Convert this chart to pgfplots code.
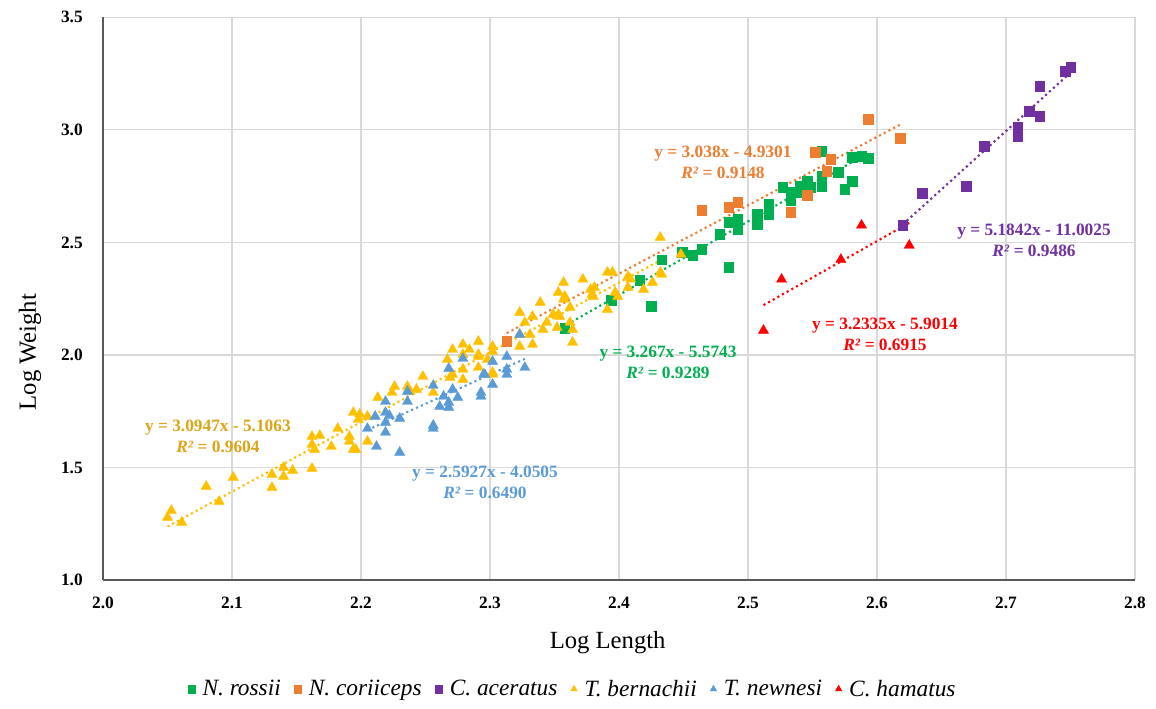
\documentclass[border=0pt]{standalone}
\usepackage{fontspec}
\setmainfont{Liberation Serif}
\usepackage{pgfplots}
\pgfplotsset{compat=1.18}
\definecolor{cgreen}{HTML}{00B050}
\definecolor{corange}{HTML}{ED7D31}
\definecolor{cpurple}{HTML}{7030A0}
\definecolor{cyellow}{HTML}{FFC000}
\definecolor{cblue}{HTML}{5B9BD5}
\definecolor{cred}{HTML}{FF0000}
\definecolor{lyellow}{HTML}{DCA515}
\definecolor{axisgray}{HTML}{595959}
\definecolor{gridgray}{HTML}{D9D9D9}
\newcommand\eqfont{\fontsize{13}{15.2}\selectfont\bfseries}
\begin{document}
\begin{tikzpicture}
\begin{axis}[
  scale only axis, width=774pt, height=422pt,
  xmin=2.0, xmax=2.8, ymin=1.0, ymax=3.5,
  axis lines=left, axis line style={-, draw=axisgray, line width=1pt},
  xtick={2,2.1,2.2,2.3,2.4,2.5,2.6,2.7,2.8},
  xticklabels={2.0,2.1,2.2,2.3,2.4,2.5,2.6,2.7,2.8},
  ytick={1,1.5,2,2.5,3,3.5},
  yticklabels={1.0,1.5,2.0,2.5,3.0,3.5},
  grid=major, major grid style={draw=gridgray, line width=0.9pt},
  major tick length=0pt,
  tick label style={font=\fontsize{13}{15}\selectfont\bfseries, inner sep=0pt},
  xticklabel shift=12.5pt, yticklabel shift=15pt,
  xlabel={Log Length}, ylabel={Log Weight},
  label style={font=\fontsize{18.5}{22}\selectfont},
  xlabel style={at={(rel axis cs:0.489,-0.1114)}, anchor=center},
  ylabel style={at={(rel axis cs:-0.0707,0.405)}, anchor=center},
  legend style={at={(rel axis cs:0.4554,-0.1937)}, anchor=center, draw=none,
    font=\fontsize{17.5}{21}\selectfont\itshape, inner sep=0pt,
    /tikz/every odd column/.append style={column sep=3.5pt},
    /tikz/every even column/.append style={column sep=8pt}},
  legend columns=6,
  legend image code/.code={\draw[#1, mark size=2.8pt] plot coordinates {(0pt,0pt)};},
  sq/.style={only marks, mark=square*, mark size=3.6pt, mark options={line width=0.3pt}},
  tr/.style={only marks, mark=triangle*, mark size=4.4pt, mark options={line width=0.3pt}},
  trend/.style={line width=1.6pt, dash pattern=on 1.6pt off 2.4pt, forget plot},
]
% N. rossii
\addplot[sq, color=cgreen] coordinates {
(2.358,2.120) (2.394,2.242) (2.416,2.331) (2.425,2.216) (2.433,2.424)
(2.449,2.456) (2.457,2.442) (2.464,2.469) (2.478,2.536) (2.485,2.589)
(2.485,2.389) (2.492,2.602) (2.492,2.558) (2.507,2.624) (2.507,2.580)
(2.516,2.669) (2.516,2.624) (2.527,2.744) (2.533,2.722) (2.538,2.722)
(2.533,2.687) (2.540,2.749) (2.546,2.771) (2.548,2.744) (2.557,2.749)
(2.557,2.793) (2.557,2.904) (2.570,2.811) (2.575,2.736) (2.581,2.771)
(2.581,2.878) (2.588,2.882) (2.593,2.873)};
\addlegendentry{N. rossii}
% N. coriiceps
\addplot[sq, color=corange] coordinates {
(2.313,2.060) (2.464,2.642) (2.485,2.656) (2.492,2.678) (2.533,2.633)
(2.546,2.709) (2.561,2.816) (2.564,2.869) (2.552,2.900) (2.593,3.047)
(2.618,2.962)};
\addlegendentry{N. coriiceps}
% C. aceratus
\addplot[sq, color=cpurple] coordinates {
(2.620,2.576) (2.635,2.718) (2.669,2.749) (2.683,2.927) (2.709,3.011)
(2.709,2.989) (2.709,2.971) (2.718,3.082) (2.726,3.060) (2.726,3.193)
(2.746,3.260) (2.750,3.278)};
\addlegendentry{C. aceratus}
% T. bernachii
\addplot[tr, color=cyellow] coordinates {
(2.050,1.278) (2.053,1.309) (2.061,1.256) (2.080,1.416) (2.090,1.349)
(2.101,1.456) (2.131,1.469) (2.131,1.411) (2.140,1.500) (2.140,1.460)
(2.147,1.487) (2.162,1.496) (2.162,1.638) (2.168,1.642) (2.162,1.602)
(2.164,1.580) (2.177,1.593) (2.182,1.673) (2.191,1.638) (2.191,1.616)
(2.194,1.580) (2.196,1.580) (2.205,1.616) (2.194,1.744) (2.198,1.713)
(2.199,1.736) (2.205,1.727) (2.213,1.811) (2.224,1.833) (2.226,1.860)
(2.236,1.860) (2.238,1.838) (2.243,1.847) (2.248,1.904) (2.256,1.833)
(2.271,2.024) (2.279,2.047) (2.291,2.060) (2.302,2.038) (2.284,2.024)
(2.267,1.980) (2.279,2.002) (2.291,2.002) (2.298,1.980) (2.279,1.936)
(2.291,1.944) (2.302,1.922) (2.271,1.913) (2.279,1.891) (2.339,2.233)
(2.357,2.247) (2.323,2.189) (2.333,2.171) (2.327,2.144) (2.344,2.144)
(2.353,2.180) (2.362,2.211) (2.362,2.144) (2.341,2.113) (2.352,2.122)
(2.364,2.113) (2.323,2.091) (2.331,2.091) (2.333,2.047) (2.323,2.038)
(2.302,2.016) (2.291,1.993) (2.269,1.900) (2.302,1.913) (2.364,2.056)
(2.432,2.522) (2.357,2.322) (2.372,2.336) (2.391,2.367) (2.395,2.367)
(2.353,2.278) (2.358,2.260) (2.378,2.291) (2.380,2.260) (2.397,2.278)
(2.407,2.349) (2.407,2.300) (2.419,2.291) (2.426,2.322) (2.432,2.367)
(2.391,2.202) (2.349,2.180) (2.354,2.171) (2.448,2.447) (2.433,2.358)
(2.409,2.336) (2.381,2.300) (2.379,2.269) (2.399,2.260)};
\addlegendentry{T. bernachii}
% T. newnesi
\addplot[tr, color=cblue] coordinates {
(2.279,1.984) (2.268,1.940) (2.256,1.864) (2.236,1.838) (2.236,1.793)
(2.219,1.793) (2.219,1.744) (2.222,1.731) (2.211,1.727) (2.230,1.718)
(2.219,1.700) (2.205,1.673) (2.219,1.656) (2.212,1.593) (2.256,1.687)
(2.256,1.673) (2.261,1.771) (2.268,1.767) (2.271,1.847) (2.275,1.811)
(2.264,1.816) (2.293,1.816) (2.293,1.833) (2.296,1.913) (2.302,1.869)
(2.302,1.971) (2.323,2.091) (2.313,1.993) (2.327,1.944) (2.313,1.936)
(2.313,1.913) (2.295,1.913) (2.230,1.567) (2.268,1.789)};
\addlegendentry{T. newnesi}
% C. hamatus
\addplot[tr, color=cred] coordinates {
(2.512,2.109) (2.526,2.336) (2.572,2.424) (2.588,2.576) (2.625,2.487)};
\addlegendentry{C. hamatus}
% trend lines (endpoints of the fitted lines)
\addplot[trend, color=cgreen] coordinates {(2.356,2.1228) (2.593,2.8970)};
\addplot[trend, color=corange] coordinates {(2.313,2.0968) (2.618,3.0234)};
\addplot[trend, color=cpurple] coordinates {(2.620,2.5801) (2.750,3.2541)};
\addplot[trend, color=cyellow] coordinates {(2.050,1.2378) (2.432,2.4200)};
\addplot[trend, color=cblue] coordinates {(2.205,1.6664) (2.327,1.9827)};
\addplot[trend, color=cred] coordinates {(2.512,2.2212) (2.625,2.5865)};
% equation labels
\node[align=center, text=lyellow, font=\eqfont] at (axis cs:2.0891,1.6378) {y = 3.0947x - 5.1063\\\textit{R²} = 0.9604};
\node[align=center, text=cblue, font=\eqfont] at (axis cs:2.2961,1.4333) {y = 2.5927x - 4.0505\\\textit{R²} = 0.6490};
\node[align=center, text=cgreen, font=\eqfont] at (axis cs:2.4380,1.9667) {y = 3.267x - 5.5743\\\textit{R²} = 0.9289};
\node[align=center, text=corange, font=\eqfont] at (axis cs:2.4806,2.8556) {y = 3.038x - 4.9301\\\textit{R²} = 0.9148};
\node[align=center, text=cred, font=\eqfont] at (axis cs:2.6062,2.0911) {y = 3.2335x - 5.9014\\\textit{R²} = 0.6915};
\node[align=center, text=cpurple, font=\eqfont] at (axis cs:2.7217,2.5090) {y = 5.1842x - 11.0025\\\textit{R²} = 0.9486};
\end{axis}
\pgfresetboundingbox
\path[use as bounding box] (-77.25pt,-96pt) rectangle (789.75pt,435pt);
\end{tikzpicture}
\end{document}
